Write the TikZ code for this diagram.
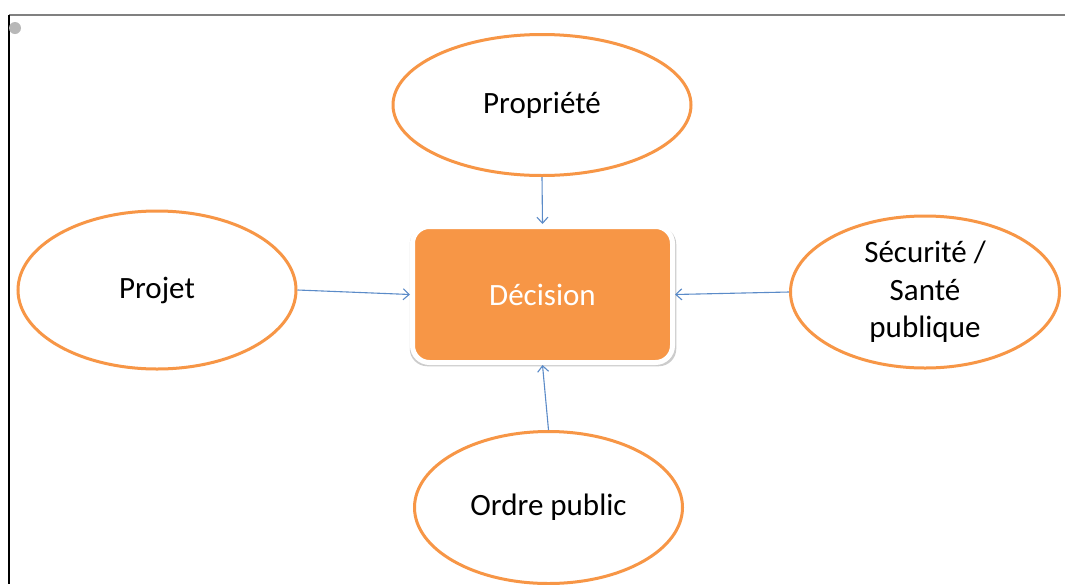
\documentclass[tikz,border=0pt]{standalone}
\usepackage{fontspec}
\setmainfont{Carlito}
\usetikzlibrary{shapes.geometric, arrows.meta, shadows}

\definecolor{accentorange}{HTML}{F79646}
\definecolor{linkblue}{HTML}{5B8BC8}

\begin{document}
\begin{tikzpicture}[
    x=1pt, y=-1pt,
    % Topic style
    topicbox/.style={
        ellipse,
        draw=accentorange,
        line width=3pt,
        fill=white,
        inner sep=0pt,
        font=\fontsize{31}{37.5}\selectfont,
        align=center
    },
    % Decision style
    decisionbox/.style={
        rectangle,
        rounded corners=17pt,
        draw=white,
        line width=5pt,
        fill=accentorange,
        text=white,
        minimum width=260pt,
        minimum height=136pt,
        inner sep=0pt,
        font=\fontsize{31}{37}\selectfont,
        drop shadow={opacity=0.4, shadow xshift=0.5pt, shadow yshift=-2pt, shadow scale=1.025}
    },
    arrow/.style={
        -{Straight Barb[length=6pt,width=11pt]},
        line width=1.1pt,
        linkblue
    }
]

% === Page and frame ===
\fill[white] (0,0) rectangle (1065,584);
\useasboundingbox (0,0) rectangle (1065,584);
\draw[black!50, line width=2pt] (9,15) -- (1065,15);
\draw[black, line width=1.6pt] (9,15) -- (9,584);
\fill[black!28] (15,28) circle (6);

% === Center ===
\node[decisionbox] (dec) at (542.5,294.5) {Décision};

% === Topics ===
\node[topicbox, minimum width=298pt, minimum height=141pt] (prop) at (542,105) {Propriété};
\node[topicbox, minimum width=278pt, minimum height=158pt] (proj) at (157,290) {Projet};
\node[topicbox, minimum width=269pt, minimum height=152pt] (secu) at (925,292) {Sécurité /\\Santé\\publique};
\node[topicbox, minimum width=268pt, minimum height=152pt] (ordre) at (548.5,507.5) {Ordre public};

% === Links ===
\draw[arrow] (prop.south) -- (dec.north);
\draw[arrow] (proj.east) -- (dec.west);
\draw[arrow] (secu.west) -- (dec.east);
\draw[arrow] (ordre.north) -- (dec.south);

\end{tikzpicture}
\end{document}
